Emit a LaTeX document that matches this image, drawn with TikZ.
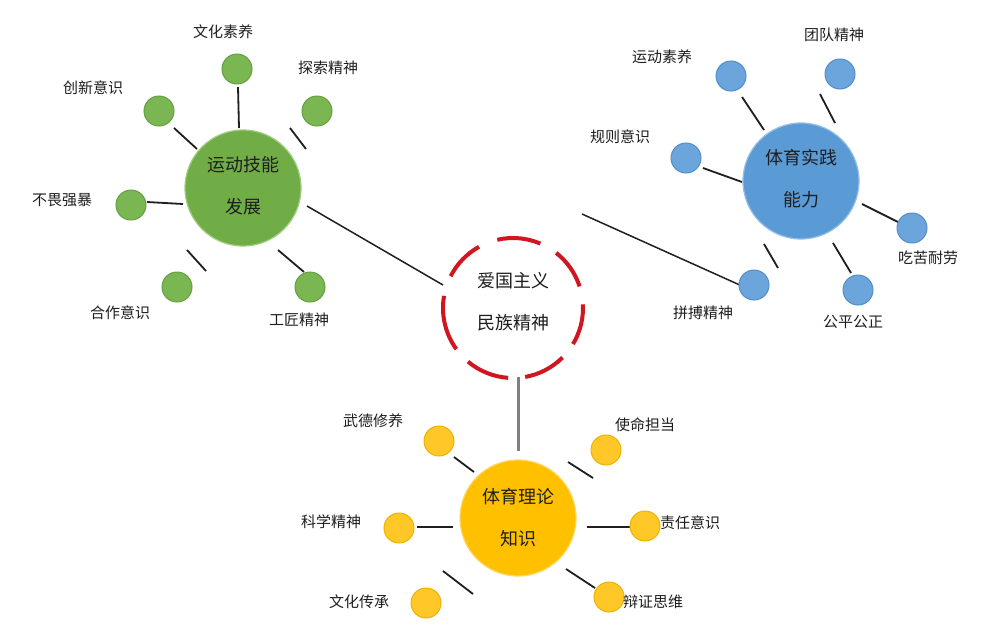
\documentclass[tikz,border=0pt]{standalone}
\usepackage{fontspec}
\setmainfont{Noto Sans CJK SC}
\definecolor{gbig}{RGB}{112,173,71}
\definecolor{gbigb}{RGB}{160,205,130}
\definecolor{gsm}{RGB}{122,182,82}
\definecolor{gsmb}{RGB}{100,160,64}
\definecolor{bbig}{RGB}{91,155,213}
\definecolor{bbigb}{RGB}{150,190,230}
\definecolor{bsm}{RGB}{108,165,220}
\definecolor{bsmb}{RGB}{84,142,200}
\definecolor{ybig}{RGB}{255,192,0}
\definecolor{ybigb}{RGB}{255,215,100}
\definecolor{ysm}{RGB}{255,200,40}
\definecolor{ysmb}{RGB}{238,178,0}
\definecolor{redd}{RGB}{208,22,32}
\definecolor{txt}{RGB}{30,30,30}
\begin{document}
\begin{tikzpicture}[x=1pt,y=-1pt,
  hub/.style={circle,minimum size=116pt,inner sep=0pt,line width=1.2pt},
  hubtext/.style={font=\fontsize{18}{42}\selectfont,text=txt,align=center,inner sep=0pt},
  leaf/.style={circle,minimum size=30pt,inner sep=0pt,line width=1pt},
  lbl/.style={font=\fontsize{15}{18}\selectfont,text=txt,inner sep=0pt},
  conn/.style={line width=1.8pt,draw=black!88},
  mainline/.style={line width=1.5pt,draw=black!88},
  reddash/.style={draw=redd,line width=4pt}]
\useasboundingbox[fill=white] (0,0) rectangle (987,624);

% ---- coordinates for connector ends
\coordinate (gA) at (307,206);
\coordinate (gB) at (443,285);
\coordinate (bA) at (582,214);
\coordinate (bB) at (742,286);
\coordinate (vA) at (518,377);
\coordinate (vB) at (518,451);

% green segments
\coordinate (g1a) at (238,87);  \coordinate (g1b) at (239,128);
\coordinate (g2a) at (174,128); \coordinate (g2b) at (197,149);
\coordinate (g3a) at (290,128); \coordinate (g3b) at (306,149);
\coordinate (g4a) at (147,202); \coordinate (g4b) at (183,204);
\coordinate (g5a) at (187,250); \coordinate (g5b) at (206,271);
\coordinate (g6a) at (278,250); \coordinate (g6b) at (304,272);
% blue segments
\coordinate (b1a) at (742,97);  \coordinate (b1b) at (764,130);
\coordinate (b2a) at (820,94);  \coordinate (b2b) at (835,123);
\coordinate (b3a) at (703,168); \coordinate (b3b) at (742,182);
\coordinate (b4a) at (862,204); \coordinate (b4b) at (898,222);
\coordinate (b5a) at (764,244); \coordinate (b5b) at (778,268);
\coordinate (b6a) at (833,243); \coordinate (b6b) at (851,273);
% yellow segments
\coordinate (y1a) at (454,457); \coordinate (y1b) at (474,472);
\coordinate (y2a) at (568,462); \coordinate (y2b) at (593,478);
\coordinate (y3a) at (417,527); \coordinate (y3b) at (453,527);
\coordinate (y4a) at (587,527); \coordinate (y4b) at (630,527);
\coordinate (y5a) at (443,571); \coordinate (y5b) at (473,594);
\coordinate (y6a) at (566,569); \coordinate (y6b) at (595,588);

% ---- connectors
\draw[mainline] (gA) -- (gB);
\draw[mainline] (bA) -- (bB);
\draw[line width=3pt,draw=black!50] (vA) -- (vB);
\foreach \p in {g1,g2,g3,g4,g5,g6,b1,b2,b3,b4,b5,b6,y1,y2,y3,y4,y5,y6}
  \draw[conn] (\p a) -- (\p b);

% ---- hubs
\node[hub,fill=gbig,draw=gbigb] (g) at (243,188) {};
\node[hubtext] (gt) at (243,186) {运动技能\\发展};
\node[hub,fill=bbig,draw=bbigb] (b) at (801,181) {};
\node[hubtext] (bt) at (801,178.5) {体育实践\\能力};
\node[hub,fill=ybig,draw=ybigb] (y) at (518,518) {};
\node[hubtext] (yt) at (518,517.5) {体育理论\\知识};
\node[circle,minimum size=140pt,inner sep=0pt] (c) at (513,308) {};
\foreach \s/\e in {-31/3,-80/-45,-130/-94,-190/-144,-241/-207,-293/-257,-342/-308}
  \draw[reddash] (c.center) ++(\s:70pt) arc[start angle=\s,end angle=\e,radius=70pt];
\node[hubtext] (ct) at (513,301.5) {爱国主义\\民族精神};

% ---- green leaves
\node[leaf,fill=gsm,draw=gsmb] (gl1) at (237,69) {};
\node[leaf,fill=gsm,draw=gsmb] (gl2) at (159,111) {};
\node[leaf,fill=gsm,draw=gsmb] (gl3) at (317,111) {};
\node[leaf,fill=gsm,draw=gsmb] (gl4) at (131,205) {};
\node[leaf,fill=gsm,draw=gsmb] (gl5) at (177,287) {};
\node[leaf,fill=gsm,draw=gsmb] (gl6) at (310,287) {};
\node[lbl] (gn1) at (223,32) {文化素养};
\node[lbl] (gn2) at (93,88) {创新意识};
\node[lbl] (gn3) at (328,68) {探索精神};
\node[lbl] (gn4) at (62,200) {不畏强暴};
\node[lbl] (gn5) at (120,313) {合作意识};
\node[lbl] (gn6) at (299,320) {工匠精神};

% ---- blue leaves
\node[leaf,fill=bsm,draw=bsmb] (bl1) at (731,76) {};
\node[leaf,fill=bsm,draw=bsmb] (bl2) at (840,74) {};
\node[leaf,fill=bsm,draw=bsmb] (bl3) at (686,158) {};
\node[leaf,fill=bsm,draw=bsmb] (bl4) at (912,228) {};
\node[leaf,fill=bsm,draw=bsmb] (bl5) at (754,285) {};
\node[leaf,fill=bsm,draw=bsmb] (bl6) at (858,290) {};
\node[lbl] (bn1) at (662,57) {运动素养};
\node[lbl] (bn2) at (834,35) {团队精神};
\node[lbl] (bn3) at (620,137) {规则意识};
\node[lbl] (bn4) at (928,258) {吃苦耐劳};
\node[lbl] (bn5) at (703,313) {拼搏精神};
\node[lbl] (bn6) at (853,322) {公平公正};

% ---- yellow leaves
\node[leaf,fill=ysm,draw=ysmb] (yl1) at (439,441) {};
\node[leaf,fill=ysm,draw=ysmb] (yl2) at (606,450) {};
\node[leaf,fill=ysm,draw=ysmb] (yl3) at (399,528) {};
\node[leaf,fill=ysm,draw=ysmb] (yl4) at (645,526) {};
\node[leaf,fill=ysm,draw=ysmb] (yl5) at (426,603) {};
\node[leaf,fill=ysm,draw=ysmb] (yl6) at (609,597) {};
\node[lbl] (yn1) at (373,421) {武德修养};
\node[lbl] (yn2) at (645,425) {使命担当};
\node[lbl] (yn3) at (331,522) {科学精神};
\node[lbl] (yn4) at (690,523) {责任意识};
\node[lbl] (yn5) at (359,602) {文化传承};
\node[lbl] (yn6) at (653,602) {辩证思维};
\end{tikzpicture}
\end{document}
